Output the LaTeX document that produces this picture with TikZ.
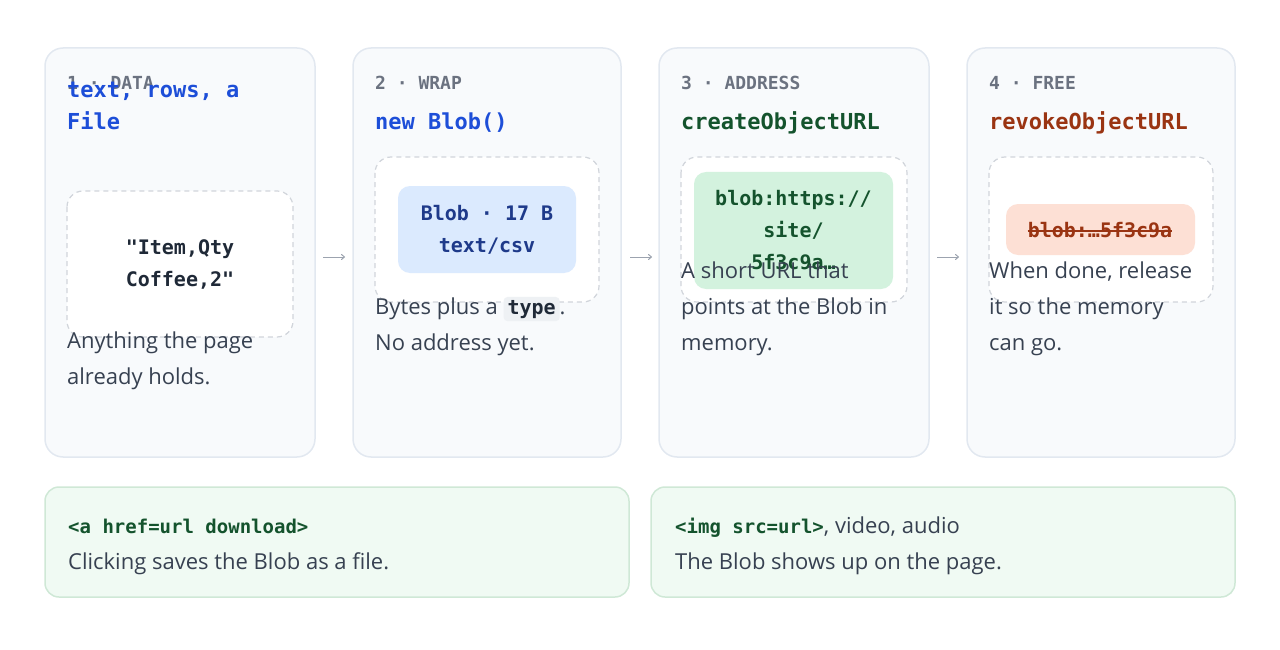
\documentclass[tikz,border=0pt]{standalone}
\usepackage{fontspec}
\usetikzlibrary{arrows.meta}
\setmainfont{Open Sans}
\setmonofont{DejaVu Sans Mono}
\begin{document}
\begin{tikzpicture}[x=1pt,y=-1pt,
 card/.style={draw=cardline,fill=cardbg,line width=1.5pt,rounded corners=18pt},
 dbox/.style={draw=dashc,fill=white,line width=1.2pt,dash pattern=on 5pt off 4pt,rounded corners=16pt},
 lab/.style={anchor=base west,font=\ttfamily\bfseries\fontsize{18}{22}\selectfont,text=labc,inner sep=0},
 ttl/.style={anchor=base west,font=\ttfamily\bfseries\fontsize{22}{32}\selectfont,inner sep=0,align=left},
 desc/.style={anchor=base west,font=\fontsize{22}{36}\selectfont,text=descc,inner sep=0,align=left},
 pill/.style={rounded corners=12pt,inner sep=0},
 ptx/.style={font=\ttfamily\bfseries\fontsize{20}{32}\selectfont,align=center,inner sep=0},
 arr/.style={draw=arrc,line width=1pt,-{To[length=4pt,width=6pt]}},
 note/.style={draw=noteline,fill=notebg,line width=1.5pt,rounded corners=14pt}]
\definecolor{cardline}{HTML}{E2E8F0}\definecolor{cardbg}{HTML}{F8FAFC}
\definecolor{dashc}{HTML}{D1D5DB}\definecolor{labc}{HTML}{6B7280}
\definecolor{descc}{HTML}{374151}\definecolor{arrc}{HTML}{9CA3AF}
\definecolor{blu}{HTML}{1D4ED8}\definecolor{grn}{HTML}{14532D}\definecolor{red}{HTML}{9A3412}
\definecolor{bluebg}{HTML}{DBEAFE}\definecolor{bluetx}{HTML}{1E3A8A}
\definecolor{grnbg}{HTML}{D3F2DE}\definecolor{redbg}{HTML}{FDE0D5}
\definecolor{noteline}{HTML}{CFE8D6}\definecolor{notebg}{HTML}{F0FAF3}
\definecolor{codebg}{HTML}{EEF1F4}\definecolor{dark}{HTML}{1F2937}
\useasboundingbox (0,0) rectangle (1280,650);
% cards
\path[card] (45,48) rectangle (315,457);
\path[card] (353,48) rectangle (621,457);
\path[card] (659,48) rectangle (929,457);
\path[card] (967,48) rectangle (1235,457);
% labels
\node[lab] (l1) at (67,90) {1 · DATA};
\node[lab] (l2) at (375,90) {2 · WRAP};
\node[lab] (l3) at (681,90) {3 · ADDRESS};
\node[lab] (l4) at (989,90) {4 · FREE};
% titles
\node[ttl,text=blu] (t1) at (67,130) {text, rows, a\\File};
\node[ttl,text=blu] (t2) at (375,130) {new Blob()};
\node[ttl,text=grn] (t3) at (681,130) {createObjectURL};
\node[ttl,text=red] (t4) at (989,130) {revokeObjectURL};
% dashed boxes
\path[dbox] (67,191) rectangle (293,337);
\path[dbox] (375,157) rectangle (599,302);
\path[dbox] (681,157) rectangle (907,302);
\path[dbox] (989,157) rectangle (1213,302);
\node[ptx,text=dark] (d1) at (180,264) {"Item,Qty\\Coffee,2"};
\fill[bluebg,pill] (398,186) rectangle (576,273);
\node[ptx,text=bluetx] (d2) at (487,230) {Blob · 17 B\\text/csv};
\fill[grnbg,pill] (694,172) rectangle (893,289);
\node[ptx,text=grn] (d3) at (793.5,230) {blob:https://\\site/\\5f3c9a…};
\fill[redbg,pill] (1006,204) rectangle (1195,255);
\node[ptx,text=red] (d4) at (1100,230) {blob:…5f3c9a};
\draw[red,line width=1.5pt] (d4.west|-0,231) -- (d4.east|-0,231);
% descriptions
\node[desc] (s1) at (67,384) {Anything the page\\already holds.};
\node[desc] (s2) at (375,350) {Bytes plus a \tikz[baseline=0pt]\node[fill=codebg,rounded corners=4pt,inner xsep=4pt,inner ysep=3pt,anchor=base,font=\ttfamily\bfseries\fontsize{20}{22}\selectfont,text=dark]{type};.\\No address yet.};
\node[desc] (s3) at (681,350) {A short URL that\\points at the Blob in\\memory.};
\node[desc] (s4) at (989,350) {When done, release\\it so the memory\\can go.};
% arrows
\coordinate (a1s) at (323,257); \coordinate (a1e) at (345,257);
\coordinate (a2s) at (630,257); \coordinate (a2e) at (652,257);
\coordinate (a3s) at (937,257); \coordinate (a3e) at (959,257);
\draw[arr] (a1s) -- (a1e);
\draw[arr] (a2s) -- (a2e);
\draw[arr] (a3s) -- (a3e);
% notes
\path[note] (45,487) rectangle (629,597);
\path[note] (651,487) rectangle (1235,597);
\node[anchor=base west,inner sep=0,font=\ttfamily\bfseries\fontsize{19}{22}\selectfont,text=grn] (n1) at (68,533) {<a href=url download>};
\node[desc] (n1b) at (68,569) {Clicking saves the Blob as a file.};
\node[anchor=base west,inner sep=0,font=\fontsize{22}{22}\selectfont,text=descc] (n2) at (675,533) {{\ttfamily\bfseries\fontsize{19}{22}\selectfont\color{grn}<img src=url>}, video, audio};
\node[desc] (n2b) at (675,569) {The Blob shows up on the page.};
\end{tikzpicture}
\end{document}
